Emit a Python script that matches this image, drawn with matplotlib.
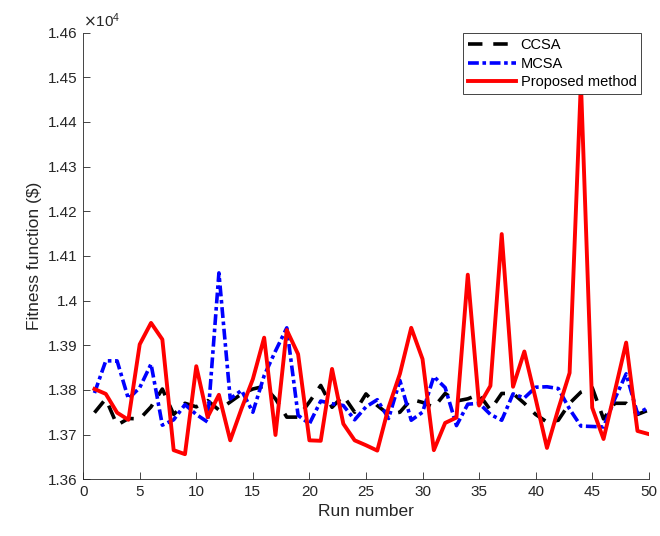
import numpy as np
import matplotlib
matplotlib.use("Agg")
import matplotlib.pyplot as plt
from matplotlib.ticker import FuncFormatter

plt.rcParams['font.family'] = ['Liberation Sans', 'DejaVu Sans']

# fitness values per run ($)
runs = list(range(1, 51))
ccsa = [13749, 13780, 13721, 13736, 13735, 13762, 13802, 13745, 13770, 13762,
        13776, 13755, 13773, 13791, 13802, 13808, 13780, 13739, 13739, 13773,
        13810, 13761, 13787, 13750, 13791, 13765, 13745, 13750, 13779, 13772,
        13761, 13792, 13775, 13780, 13790, 13755, 13792, 13792, 13770, 13745,
        13728, 13732, 13770, 13795, 13805, 13735, 13770, 13770, 13745, 13755]
mcsa = [13793, 13865, 13865, 13780, 13805, 13858, 13721, 13733, 13767, 13745,
        13728, 14062, 13780, 13799, 13750, 13832, 13887, 13939, 13743, 13724,
        13775, 13769, 13765, 13733, 13762, 13778, 13736, 13821, 13732, 13750,
        13830, 13805, 13720, 13768, 13770, 13745, 13732, 13791, 13782, 13806,
        13807, 13803, 13757, 13719, 13718, 13717, 13780, 13836, 13747, 13761]
proposed = [13802, 13791, 13749, 13733, 13902, 13950, 13913, 13665, 13656, 13853,
            13739, 13789, 13687, 13758, 13824, 13917, 13699, 13934, 13880, 13687,
            13686, 13847, 13724, 13687, 13676, 13664, 13761, 13836, 13939, 13869,
            13665, 13726, 13738, 14058, 13765, 13809, 14149, 13807, 13886, 13780,
            13670, 13757, 13838, 14490, 13760, 13690, 13797, 13906, 13708, 13701]

fig = plt.figure(figsize=(6.6, 5.36), dpi=100)
ax = fig.add_axes([0.126, 0.106, 0.857, 0.833])

ax.plot(runs, ccsa, color='black', lw=2.6, ls=(0, (4, 3)), label='CCSA')
ax.plot(runs, mcsa, color='blue', lw=2.6, ls=(0, (3, 1, 1, 1)), label='MCSA')
ax.plot(runs, proposed, color='red', lw=2.8, label='Proposed method')

ax.set_xlim(0, 50)
ax.set_ylim(13600, 14600)
ax.set_xticks(np.arange(0, 51, 5))
ax.set_yticks(np.arange(13600, 14601, 100))
ax.yaxis.set_major_formatter(FuncFormatter(lambda v, p: f"{v/1e4:g}"))

for s in ['top', 'right']:
    ax.spines[s].set_visible(False)
for s in ['left', 'bottom']:
    ax.spines[s].set_color('#262626')
    ax.spines[s].set_linewidth(0.6)
ax.tick_params(direction='in', length=5, width=0.6, colors='#262626',
               labelsize=11, pad=4)

ax.text(0.0, 1.005, r'$\times\mathregular{10^4}$', transform=ax.transAxes,
        fontsize=11, color='#262626', ha='left', va='bottom')

ax.set_xlabel('Run number', fontsize=12.5, color='#262626')
ax.set_ylabel('Fitness function ($)', fontsize=12.5, color='#262626')

leg = ax.legend(loc='upper right', bbox_to_anchor=(1.0, 1.015), fontsize=10.5,
                handlelength=3.3, handletextpad=0.3, borderpad=0.35,
                labelspacing=0.3, fancybox=False, framealpha=1)
leg.get_frame().set_edgecolor('#262626')
leg.get_frame().set_linewidth(0.6)

fig.savefig('out.png', dpi=100)
